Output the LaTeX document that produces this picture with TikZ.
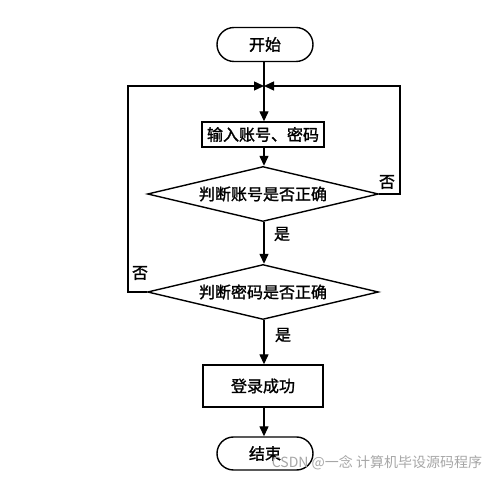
\documentclass[tikz,border=0pt]{standalone}
\usepackage{fontspec}
\setmainfont[FakeBold=1.5]{Noto Sans CJK SC}
\newfontfamily\wmfont{Noto Sans CJK SC}
\usetikzlibrary{arrows.meta,shapes.geometric,shapes.misc}
\begin{document}
\begin{tikzpicture}[x=1pt,y=-1pt,
  every node/.style={font=\fontsize{16}{18}\selectfont},
  term/.style={draw,line width=1.4pt,rounded rectangle,minimum width=96pt,minimum height=34pt,inner sep=0pt},
  procbox/.style={draw,line width=1.4pt,rectangle,inner sep=0pt},
  decide/.style={draw,line width=1.4pt,diamond,aspect=4.2,minimum width=231pt,minimum height=55pt,inner sep=0pt},
  flow/.style={line width=1.4pt,-{Triangle[length=10pt,width=9pt]}},
  lbl/.style={inner sep=0pt}]
\useasboundingbox (0,0) rectangle (499,478);
\node[term] (start) at (265,44.5) {开始};
\coordinate (j) at (264,86);
\node[procbox,minimum width=122pt,minimum height=25pt] (input) at (263,134.5) {输入账号、密码};
\node[decide] (d1) at (263,194) {判断账号是否正确};
\node[decide] (d2) at (263,292) {判断密码是否正确};
\node[procbox,minimum width=120pt,minimum height=42pt] (ok) at (263,386) {登录成功};
\node[term,minimum height=33pt] (end) at (265,453.5) {结束};
\coordinate (rl) at (400,86);
\coordinate (ll) at (128,86);
\draw[flow] (start.south -| j) -- (input.north -| j);
\draw[flow] (input.south -| j) -- (d1.north -| j);
\draw[flow] (d1.south -| j) -- (d2.north -| j);
\draw[flow] (d2.south -| j) -- (ok.north -| j);
\draw[flow] (ok.south -| j) -- (end.north -| j);
\draw[flow] (d1.east) -- (d1.east -| rl) -- (rl) -- (j);
\draw[flow] (d2.west) -- (d2.west -| ll) -- (ll) -- (j);
\node[lbl] (no1) at (387,182) {否};
\node[lbl] (yes1) at (282,234) {是};
\node[lbl] (no2) at (140,273) {否};
\node[lbl] (yes2) at (283,335) {是};
\node[lbl,text=black!35,font=\wmfont\fontsize{14}{16}\selectfont] (wm) at (377,463) {CSDN @一念 计算机毕设源码程序};
\end{tikzpicture}
\end{document}
